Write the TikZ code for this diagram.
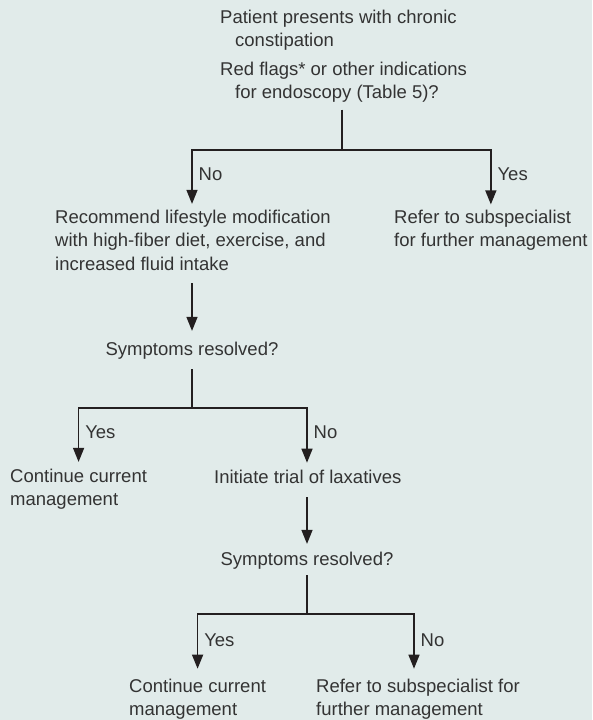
\documentclass[tikz,border=0pt]{standalone}
\usepackage{fontspec}
\setmainfont{Liberation Sans}
\usepackage{xcolor}
\usetikzlibrary{arrows.meta}
\definecolor{panel}{HTML}{E1EBEA}
\definecolor{ink}{HTML}{333333}
\definecolor{rule}{HTML}{231F20}

\begin{document}
\begin{tikzpicture}[
 x=1pt,y=-1pt,
 font=\fontsize{18.5}{23.5}\selectfont,
 txt/.style={anchor=base west,inner sep=0pt,align=left,text=ink},
 lbl/.style={anchor=west,inner sep=0pt,text=ink,xshift=6pt},
 ln/.style={draw=rule,line width=1.4pt},
 arr/.style={ln,-{Triangle[length=14pt,width=11pt]}}
]
\fill[panel] (0,0) rectangle (592,720);
\useasboundingbox (0,0) rectangle (592,720);

\node[txt] (patient) at (220,46.5) {Patient presents with chronic\\\hspace*{15pt}constipation};
\node[txt] (flags) at (220,98.5) {Red flags* or other indications\\\hspace*{15pt}for endoscopy (Table 5)?};
\coordinate (fork1) at (342,150);
\coordinate (fork2) at (192,408);
\coordinate (fork3) at (307,614);

\node[txt] (lifestyle) at (55,270) {Recommend lifestyle modification\\with high-fiber diet, exercise, and\\increased fluid intake};
\node[txt] (refer1) at (394,246.5) {Refer to subspecialist\\for further management};
\node[txt,anchor=base] (sympA) at (192,355) {Symptoms resolved?};
\node[txt] (contA) at (10,505.5) {Continue current\\management};
\node[txt] (laxative) at (214,483) {Initiate trial of laxatives};
\node[txt,anchor=base] (sympB) at (307,565) {Symptoms resolved?};
\node[txt] (contB) at (129,715.5) {Continue current\\management};
\node[txt] (refer2) at (316,715.5) {Refer to subspecialist for\\further management};

\draw[ln,shorten <=7pt] (flags.south -| fork1) -- (fork1);
\draw[arr,shorten >=5.5pt] (fork1) -| (lifestyle.north -| fork2) node[lbl,pos=.7] {No};
\draw[arr,shorten >=5pt] (fork1) -| (refer1.north) node[lbl,pos=.7] {Yes};
\draw[arr,shorten <=13pt,shorten >=10.5pt] (lifestyle.south -| fork2) -- (sympA.north);
\draw[ln,shorten <=10pt] (sympA.south) -- (fork2);
\draw[arr,shorten >=6.5pt] (fork2) -| (contA.north) node[lbl,pos=.7] {Yes};
\draw[arr,shorten >=6.7pt] (fork2) -| (laxative.north -| fork3) node[lbl,pos=.7] {No};
\draw[arr,shorten <=14pt,shorten >=7.5pt] (laxative.south -| fork3) -- (sympB.north);
\draw[ln,shorten <=6pt] (sympB.south) -- (fork3);
\draw[arr,shorten >=9.7pt] (fork3) -| (contB.north) node[lbl,pos=.7] {Yes};
\draw[arr,shorten >=9.7pt] (fork3) -| ([xshift=-4pt]refer2.north) node[lbl,pos=.7] {No};
\end{tikzpicture}
\end{document}
